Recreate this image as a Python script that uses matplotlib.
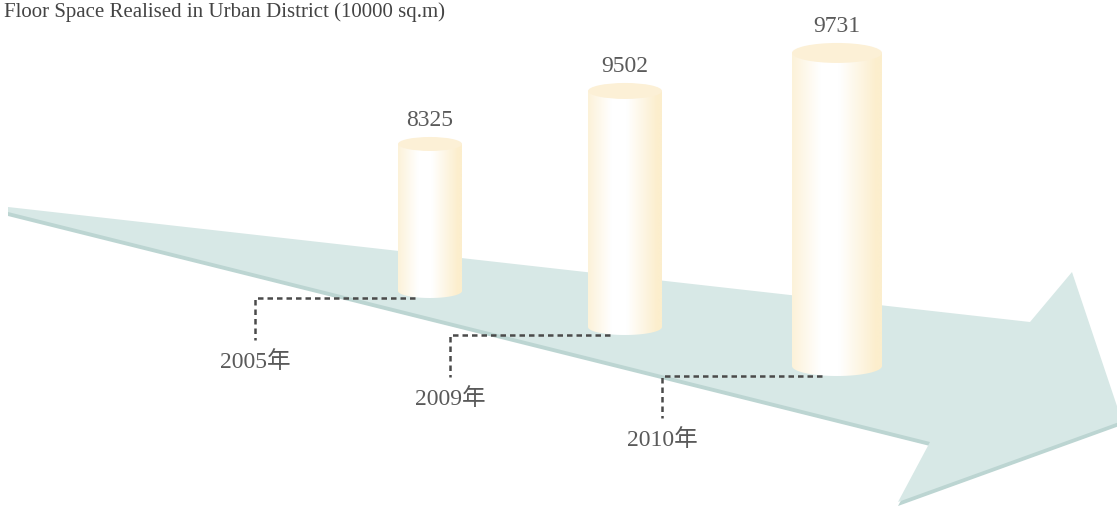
import numpy as np
import matplotlib.pyplot as plt
from matplotlib.patches import Polygon, Ellipse, PathPatch
from matplotlib.path import Path

# data
years = ["2005年", "2009年", "2010年"]
values = [8325, 9502, 9731]
title = "Floor Space Realised in Urban District (10000 sq.m)"

# layout (pixel space, y goes down)
centers_x = [430, 625, 837]
base_y = [291, 327, 366]
half_w = [32, 37, 45]
rys = [7, 8, 10]
depth = [0.01766, 0.02484, 0.03217]   # perspective scale per cylinder

W, H = 1117, 508
fig = plt.figure(figsize=(W / 100, H / 100), dpi=100)
ax = fig.add_axes([0, 0, 1, 1])
ax.set_xlim(0, W)
ax.set_ylim(H, 0)
ax.axis("off")

label_font = ["Liberation Serif", "Noto Sans CJK SC"]
grey = "#5a5a5a"

# big arrow: darker edge first, then face
arrow = [(8, 207), (1030, 322), (1072, 272), (1122, 421), (898, 502), (930, 442), (8, 212)]
edge = [(x, y + 4) for x, y in arrow]
ax.add_patch(Polygon(edge, closed=True, fc="#bcd5d2", ec="none", zorder=1))
ax.add_patch(Polygon(arrow, closed=True, fc="#d7e8e6", ec="none", zorder=2))

# cylinders
grad = np.linspace(0, 1, 200)
for cx, by, hw, ry, d, v, yr in zip(centers_x, base_y, half_w, rys, depth, values, years):
    h = v * d
    ty = by - h
    # body + bottom ellipse clip path
    verts = [(cx - hw, ty), (cx - hw, by)]
    t = np.linspace(np.pi, 0, 40)
    verts += [(cx + hw * np.cos(a), by + ry * np.sin(a)) for a in t]
    verts += [(cx + hw, ty), (cx - hw, ty)]
    clip = Path(verts, closed=True)
    patch = PathPatch(clip, fc="none", ec="none")
    ax.add_patch(patch)
    # horizontal shading: cream edges, white highlight left of centre
    s = np.abs(grad - 0.42) / 0.58
    s = np.clip(s * 1.4 - 0.25, 0, 1)
    cream = np.array([252, 238, 205]) / 255
    white = np.array([255, 255, 255]) / 255
    img = white[None, :] * (1 - s[:, None]) + cream[None, :] * s[:, None]
    im = ax.imshow(img[None, :, :], extent=(cx - hw, cx + hw, by + ry, ty),
                   aspect="auto", zorder=3, interpolation="bilinear")
    im.set_clip_path(patch)
    # top cap
    ax.add_patch(Ellipse((cx, ty), 2 * hw, 2 * ry, fc="#fcf0d6", ec="none", zorder=4))
    # value label
    ax.text(cx, ty - ry - 16, str(v), ha="center", va="center", fontsize=17,
            color=grey, family=label_font, zorder=5)
    # leader line
    lx = cx - 175
    ly = by + ry
    ax.plot([cx - 15, lx, lx], [ly, ly, ly + 42], color="#4a4a4a", lw=1.8,
            ls=(0, (2.2, 1.6)), zorder=5, solid_capstyle="butt")
    ax.text(lx, ly + 64, yr, ha="center", va="center", fontsize=17,
            color=grey, family=label_font, zorder=5)

# title in the top-left corner
ax.text(4, 2, title, ha="left", va="top", fontsize=15, color="#444444",
        family=label_font)

fig.savefig("out.png", dpi=100)
